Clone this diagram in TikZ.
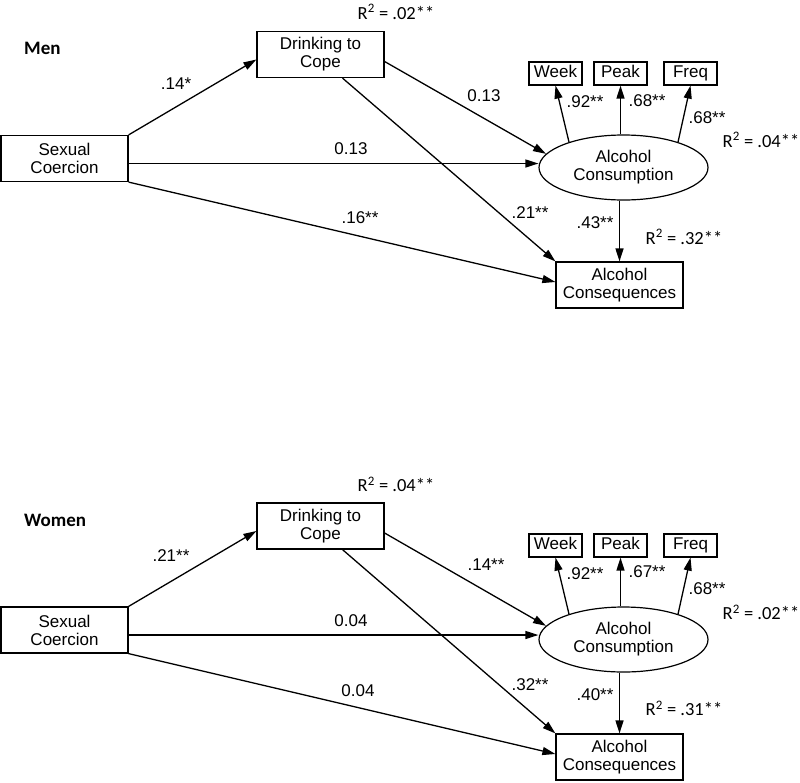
\documentclass[tikz,border=0pt]{standalone}
\usepackage{fontspec}
\setmainfont{Liberation Sans}
\newfontfamily\calfont{Carlito}
\usetikzlibrary{arrows.meta,shapes.geometric}
\tikzset{
  var/.style={draw, line width=1.2pt, inner sep=0pt, align=center, font=\fontsize{17}{18}\selectfont},
  obs/.style={var, minimum width=127pt, minimum height=46pt},
  ind/.style={var, minimum width=53pt, minimum height=23pt, text height=12pt, text depth=3.5pt},
  lat/.style={var, ellipse, minimum width=169pt, minimum height=65pt},
  link/.style={line width=1.3pt, -{Triangle[length=13pt,width=8pt]}},
  coef/.style={inner sep=0pt, font=\fontsize{17}{18}\selectfont},
  rsq/.style={inner sep=0pt, font=\calfont\fontsize{18.5}{20}\selectfont},
  group/.style={inner sep=0pt, anchor=west, font=\calfont\bfseries\fontsize{19}{20}\selectfont}
}
\begin{document}
\begin{tikzpicture}[x=1pt,y=-1pt]
        \useasboundingbox (0,0) rectangle (800,782);
        \node[group] (mtitle) at (24,48) {Men};
        \node[rsq] (mr2cope) at (396,12) {R\textsuperscript{2} = .02**};
        \node[obs] (mcope) at (320.5,54.5) {Drinking to\\Cope};
        \node[obs] (msex) at (64.5,158.5) {Sexual\\Coercion};
        \node[lat] (muse) at (623.5,167.5) {Alcohol\\Consumption};
        \node[obs] (mcons) at (619.5,285) {Alcohol\\Consequences};
        \node[ind] (mweek) at (555.5,73.5) {Week};
        \node[ind] (mpeak) at (620.5,73.5) {Peak};
        \node[ind] (mfreq) at (690.5,73.5) {Freq};
        \draw[link] (msex.north east) -- ([yshift=-5pt]mcope.west);
        \draw[link] ([yshift=-5pt]msex.east) -- ([yshift=-5pt]msex.east -| muse.west);
        \draw[link] (msex.south east) -- ([yshift=3pt]mcons.west);
        \draw[link] ([yshift=-7pt]mcope.east) -- (muse.170);
        \draw[link] ([xshift=22pt]mcope.south) -- (mcons.north west);
        \draw[link] (muse.155) -- (mweek.south);
        \draw[link] (mpeak.south |- muse.north) -- (mpeak.south);
        \draw[link] (muse.25) -- (mfreq.south);
        \draw[link] (mcons.north |- muse.south) -- (mcons.north);
        \node[coef] (mc1) at (176,84) {.14*};
        \node[coef] (mc2) at (351,149) {0.13};
        \node[coef] (mc3) at (360,218) {.16**};
        \node[coef] (mc4) at (484,96) {0.13};
        \node[coef] (mc5) at (530,213) {.21**};
        \node[coef] (mc6) at (595,223) {.43**};
        \node[coef] (mc7) at (585,102) {.92**};
        \node[coef] (mc8) at (647,101) {.68**};
        \node[coef] (mc9) at (707,118) {.68**};
        \node[rsq] (mr2use) at (761,140) {R\textsuperscript{2} = .04**};
        \node[rsq] (mr2cons) at (684,237) {R\textsuperscript{2} = .32**};

        \node[group] (wtitle) at (24,520) {Women};
        \node[rsq] (wr2cope) at (396,484) {R\textsuperscript{2} = .04**};
        \node[obs] (wcope) at (320.5,526) {Drinking to\\Cope};
        \node[obs] (wsex) at (64.5,630) {Sexual\\Coercion};
        \node[lat] (wuse) at (623.5,639.5) {Alcohol\\Consumption};
        \node[obs] (wcons) at (619.5,757) {Alcohol\\Consequences};
        \node[ind] (wweek) at (555.5,545.5) {Week};
        \node[ind] (wpeak) at (620.5,545.5) {Peak};
        \node[ind] (wfreq) at (690.5,545.5) {Freq};
        \draw[link] (wsex.north east) -- ([yshift=-5pt]wcope.west);
        \draw[link] ([yshift=-5pt]wsex.east) -- ([yshift=-5pt]wsex.east -| wuse.west);
        \draw[link] (wsex.south east) -- ([yshift=3pt]wcons.west);
        \draw[link] ([yshift=-7pt]wcope.east) -- (wuse.170);
        \draw[link] ([xshift=22pt]wcope.south) -- (wcons.north west);
        \draw[link] (wuse.155) -- (wweek.south);
        \draw[link] (wpeak.south |- wuse.north) -- (wpeak.south);
        \draw[link] (wuse.25) -- (wfreq.south);
        \draw[link] (wcons.north |- wuse.south) -- (wcons.north);
        \node[coef] (wc1) at (171,556) {.21**};
        \node[coef] (wc2) at (351,621) {0.04};
        \node[coef] (wc3) at (358,691) {0.04};
        \node[coef] (wc4) at (486,565) {.14**};
        \node[coef] (wc5) at (530,685) {.32**};
        \node[coef] (wc6) at (595,695) {.40**};
        \node[coef] (wc7) at (585,574) {.92**};
        \node[coef] (wc8) at (647,572) {.67**};
        \node[coef] (wc9) at (707,589) {.68**};
        \node[rsq] (wr2use) at (761,612) {R\textsuperscript{2} = .02**};
        \node[rsq] (wr2cons) at (684,708) {R\textsuperscript{2} = .31**};
\end{tikzpicture}
\end{document}
